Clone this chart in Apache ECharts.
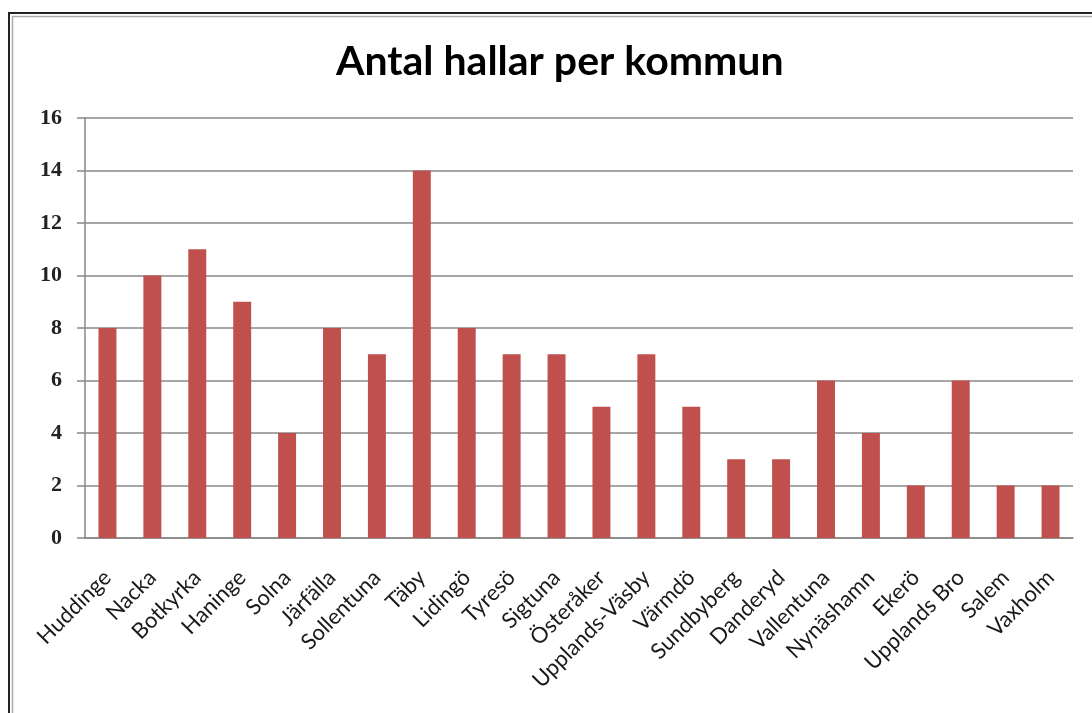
<!DOCTYPE html>
<html>
<head>
<meta charset="utf-8">
<script src="https://cdn.jsdelivr.net/npm/echarts@6/dist/echarts.min.js"></script>
<style>
  html, body { margin: 0; padding: 0; background: #fff; }
  #chart { width: 1092px; height: 713px; }
</style>
</head>
<body>
<div id="chart"></div>
<script>
const kommuner = ['Huddinge', 'Nacka', 'Botkyrka', 'Haninge', 'Solna', 'Järfälla', 'Sollentuna', 'Täby',
  'Lidingö', 'Tyresö', 'Sigtuna', 'Österåker', 'Upplands-Väsby', 'Värmdö', 'Sundbyberg', 'Danderyd',
  'Vallentuna', 'Nynäshamn', 'Ekerö', 'Upplands Bro', 'Salem', 'Vaxholm'];
const antalHallar = [8, 10, 11, 9, 4, 8, 7, 14, 8, 7, 7, 5, 7, 5, 3, 3, 6, 4, 2, 6, 2, 2];
const yTicks = { min: 0, max: 16, interval: 2 };

const chart = echarts.init(document.getElementById('chart'));

const option = {
  animation: false,
  backgroundColor: '#fff',
  title: {
    text: 'Antal hallar per kommun',
    left: 331,
    top: 36,
    textStyle: { fontFamily: 'Lato', fontWeight: 'bold', fontSize: 41, color: '#000' }
  },
  graphic: [
    // double frame round the chart, like the Excel chart area
    { type: 'rect', shape: { x: 9, y: 13, width: 1200, height: 800 },
      style: { fill: 'none', stroke: '#222', lineWidth: 2 } },
    { type: 'rect', shape: { x: 12.5, y: 16.5, width: 1200, height: 800 },
      style: { fill: 'none', stroke: '#aaa', lineWidth: 1.5 } }
  ],
  grid: { left: 85, right: 19, top: 118, bottom: 175 },
  xAxis: {
    type: 'category',
    data: kommuner,
    axisLine: { lineStyle: { color: '#888', width: 1.5 } },
    axisTick: { length: 7, lineStyle: { color: '#888', width: 1.5 } },
    axisLabel: {
      rotate: 45,
      interval: 0,
      margin: 36,
      padding: [16, 0, 0, 0],
      fontFamily: 'Lato',
      fontSize: 22,
      color: '#1a1a1a'
    }
  },
  yAxis: {
    type: 'value',
    min: yTicks.min,
    max: yTicks.max,
    interval: yTicks.interval,
    axisLine: { show: true, lineStyle: { color: '#888', width: 1.5 } },
    axisTick: { show: true, length: 8, inside: false, lineStyle: { color: '#888', width: 1.5 } },
    splitLine: { lineStyle: { color: '#888', width: 1.5 } },
    axisLabel: {
      margin: 23,
      fontFamily: 'Liberation Serif',
      fontWeight: 'bold',
      fontSize: 22,
      color: '#222'
    }
  },
  series: [{
    type: 'bar',
    data: antalHallar,
    barWidth: '40%',
    itemStyle: { color: '#C0504D' }
  }]
};

chart.setOption(option);
</script>
</body>
</html>
